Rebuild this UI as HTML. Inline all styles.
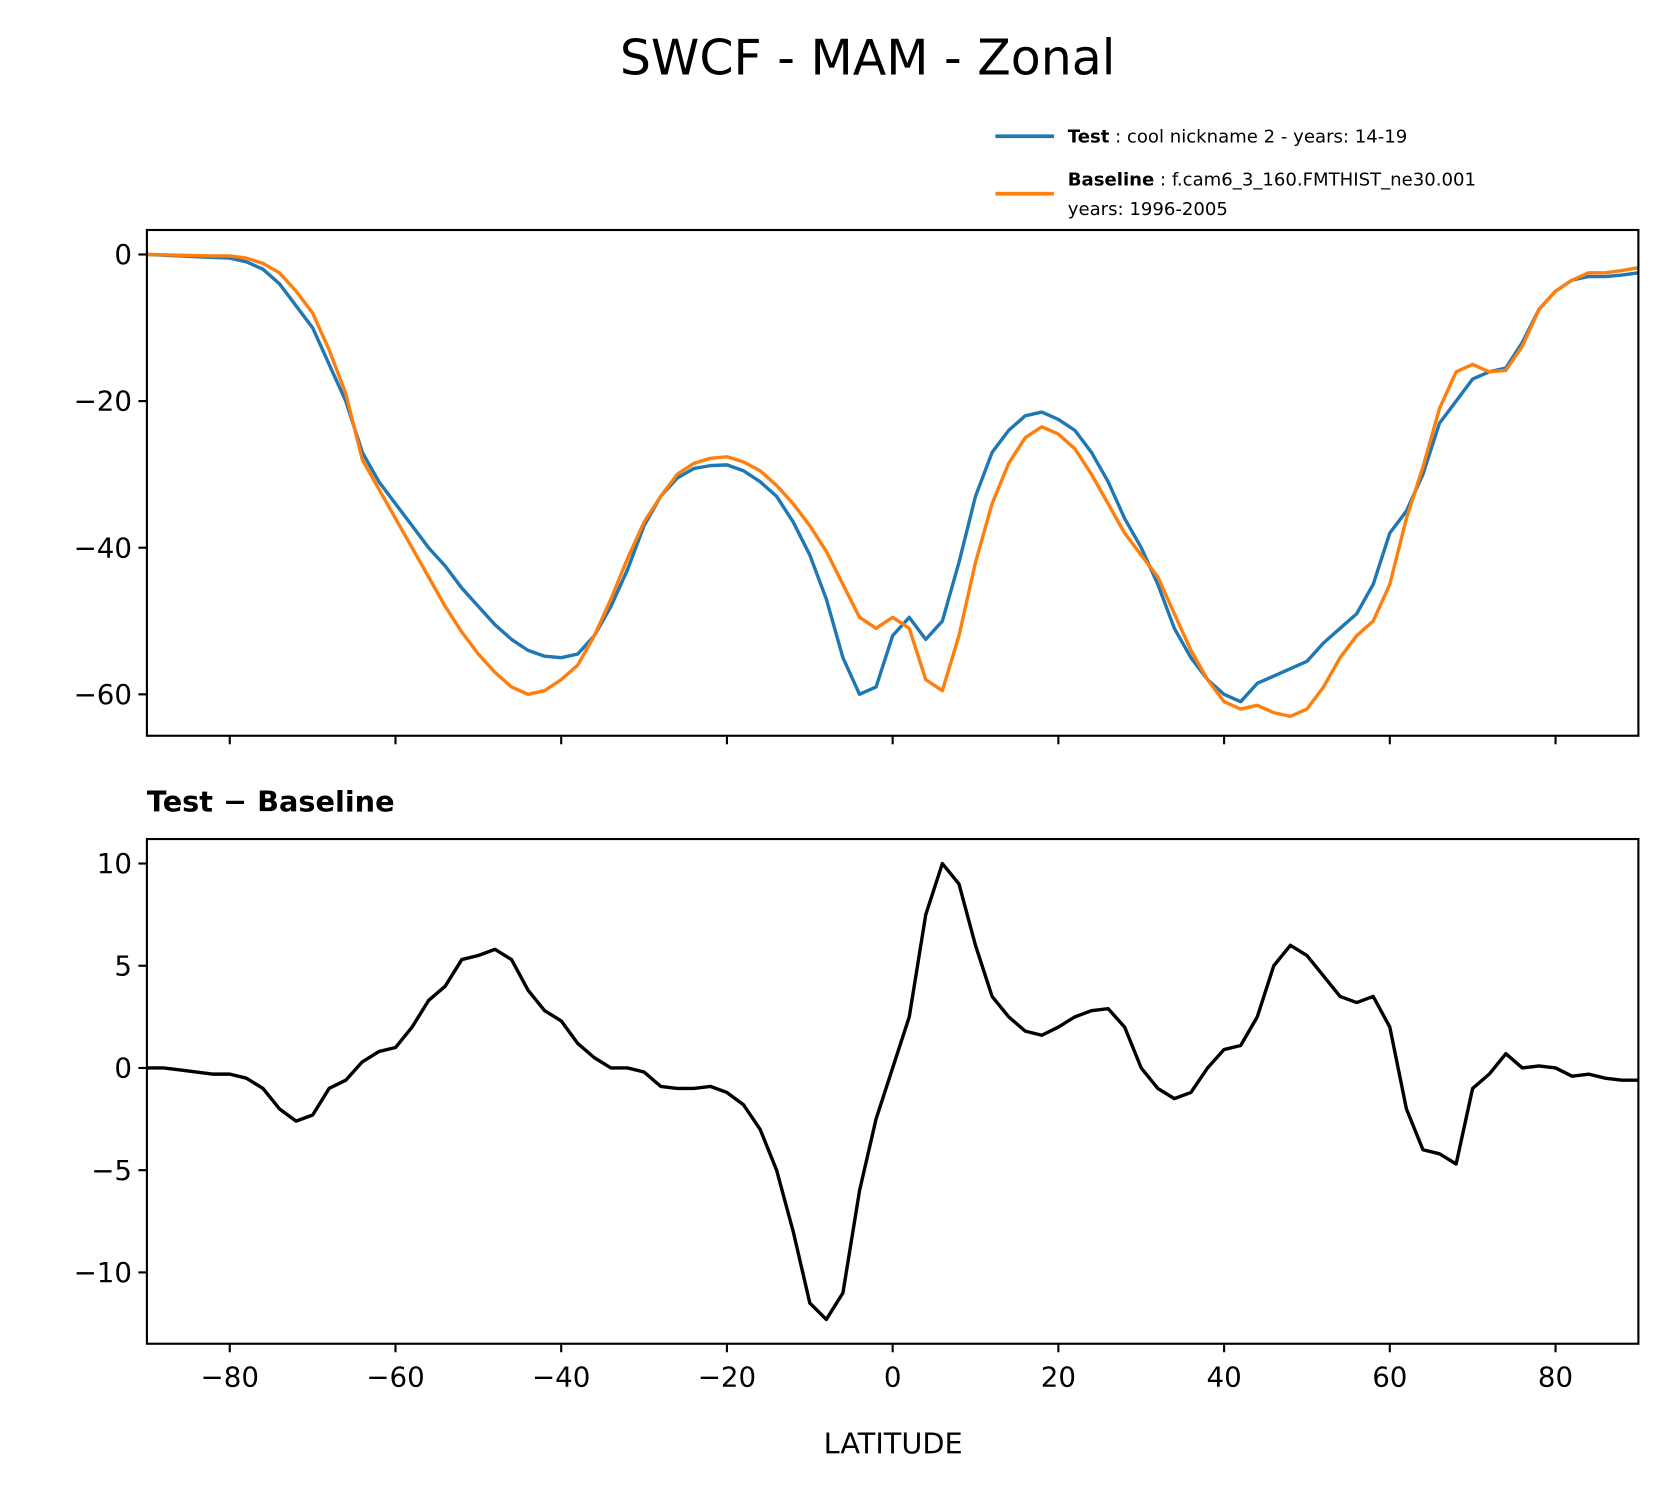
<!DOCTYPE html>
<html><head><meta charset="utf-8">
<style>
html,body{margin:0;padding:0;background:#fff;overflow:hidden;}
svg{display:block;}
svg text{font-family:"DejaVu Sans","Liberation Sans",sans-serif;fill:#000;}
</style></head>
<body>
<svg id="chart" width="1665" height="1496" viewBox="0 0 1564 1405" preserveAspectRatio="none" xmlns="http://www.w3.org/2000/svg">
<rect width="1564" height="1405" fill="#fff"/>
<text x="815" y="70" font-size="46" text-anchor="middle">SWCF - MAM - Zonal</text>
<g>
  <line x1="935" y1="128" x2="990" y2="128" stroke="#1f77b4" stroke-width="3.5"/>
  <text x="1003" y="134" font-size="17"><tspan font-weight="bold">Test</tspan> : cool nickname 2 - years: 14-19</text>
  <line x1="935" y1="182" x2="990" y2="182" stroke="#ff7f0e" stroke-width="3.5"/>
  <text x="1003" y="174" font-size="17"><tspan font-weight="bold">Baseline</tspan> : f.cam6_3_160.FMTHIST_ne30.001</text>
  <text x="1003" y="202" font-size="17">years: 1996-2005</text>
</g>
<text x="138" y="762" font-size="27" font-weight="bold">Test − Baseline</text>
<text x="839" y="1365" font-size="27" text-anchor="middle">LATITUDE</text>
</svg>
<script>
const lats = [-90,-88,-86,-84,-82,-80,-78,-76,-74,-72,-70,-68,-66,-64,-62,-60,-58,-56,-54,-52,-50,-48,-46,-44,-42,-40,-38,-36,-34,-32,-30,-28,-26,-24,-22,-20,-18,-16,-14,-12,-10,-8,-6,-4,-2,0,2,4,6,8,10,12,14,16,18,20,22,24,26,28,30,32,34,36,38,40,42,44,46,48,50,52,54,56,58,60,62,64,66,68,70,72,74,76,78,80,82,84,86,88,90];
const testValues = [0,-0.1,-0.2,-0.3,-0.4,-0.5,-1,-2,-4,-7,-10,-15,-20,-27,-31,-34,-37,-40,-42.5,-45.5,-48,-50.5,-52.5,-54,-54.8,-55,-54.5,-52,-48,-43,-37,-33,-30.5,-29.2,-28.8,-28.7,-29.5,-31,-33,-36.5,-41,-47,-55,-60,-59,-52,-49.5,-52.5,-50,-42,-33,-27,-24,-22,-21.5,-22.5,-24,-27,-31,-36,-40,-45,-51,-55,-58,-60,-61,-58.5,-57.5,-56.5,-55.5,-53,-51,-49,-45,-38,-35,-30,-23,-20,-17,-16,-15.5,-12,-7.5,-5,-3.5,-3,-3,-2.8,-2.5];
const baselineValues = [0,-0.05,-0.1,-0.15,-0.2,-0.2,-0.5,-1.2,-2.5,-5,-8,-13,-19,-28,-32,-36,-40,-44,-48,-51.5,-54.5,-57,-59,-60,-59.5,-58,-56,-52,-47,-41.5,-36.5,-33,-30,-28.5,-27.8,-27.6,-28.3,-29.5,-31.5,-34,-37,-40.5,-45,-49.5,-51,-49.5,-51,-58,-59.5,-52,-42,-34,-28.5,-25,-23.5,-24.5,-26.5,-30,-34,-38,-41,-44,-49,-54,-58,-61,-62,-61.5,-62.5,-63,-62,-59,-55,-52,-50,-45,-36,-29,-21,-16,-15,-16,-15.8,-12.5,-7.5,-5,-3.5,-2.5,-2.5,-2.2,-1.8];
const diffValues = [0,0,-0.1,-0.2,-0.3,-0.3,-0.5,-1,-2,-2.6,-2.3,-1,-0.6,0.3,0.8,1,2,3.3,4,5.3,5.5,5.8,5.3,3.8,2.8,2.3,1.2,0.5,0,0,-0.2,-0.9,-1,-1,-0.9,-1.2,-1.8,-3,-5,-8,-11.5,-12.3,-11,-6,-2.5,0,2.5,7.5,10,9,6,3.5,2.5,1.8,1.6,2,2.5,2.8,2.9,2,0,-1,-1.5,-1.2,0,0.9,1.1,2.5,5,6,5.5,4.5,3.5,3.2,3.5,2,-2,-4,-4.2,-4.7,-1,-0.3,0.7,0,0.1,0,-0.4,-0.3,-0.5,-0.6,-0.6];
const xTicks = [-80,-60,-40,-20,0,20,40,60,80];
const topYTicks = [0,-20,-40,-60];
const botYTicks = [10,5,0,-5,-10];

const NS = "http://www.w3.org/2000/svg";
const svg = document.getElementById('chart');
const L = 138, R = 1539;
const xs = v => L + (v + 90) / 180 * (R - L);
const topY = v => 239 - v * 6.885;
const botY = v => 1003 - v * 19.2;

function mk(tag, attrs) {
  const e = document.createElementNS(NS, tag);
  for (const k in attrs) e.setAttribute(k, attrs[k]);
  return e;
}

function panel(name, top, bot, yfn, ticks, showXLabels) {
  const g = mk('g', {});
  
  
  svg.appendChild(g);
  ticks.forEach(t => {
    const y = yfn(t);
    const tk = mk('line', {x1: L - 8, x2: L, y1: y, y2: y, stroke: '#000', 'stroke-width': 2});
    
    
    g.appendChild(tk);
    const tx = mk('text', {x: L - 14, y: y + 9, 'font-size': 26, 'text-anchor': 'end'});
    
    
    tx.textContent = t < 0 ? '\u2212' + Math.abs(t) : String(t);
    g.appendChild(tx);
  });
  xTicks.forEach(t => {
    const x = xs(t);
    const tk = mk('line', {x1: x, x2: x, y1: bot, y2: bot + 8, stroke: '#000', 'stroke-width': 2});
    
    
    g.appendChild(tk);
    if (showXLabels) {
      const tx = mk('text', {x: x, y: bot + 40, 'font-size': 26, 'text-anchor': 'middle'});
      
      
      tx.textContent = t < 0 ? '\u2212' + Math.abs(t) : String(t);
      g.appendChild(tx);
    }
  });
  return g;
}

function series(g, vals, yfn, color, name) {
  const d = vals.map((v, i) => (i ? 'L' : 'M') + xs(lats[i]).toFixed(1) + ',' + yfn(v).toFixed(1)).join(' ');
  const p = mk('path', {d: d, fill: 'none', stroke: color, 'stroke-width': 3.2, 'stroke-linejoin': 'round'});
  
  
  g.appendChild(p);
}

function frame(g, top, bot, name) {
  const r = mk('rect', {x: L, y: top, width: R - L, height: bot - top, fill: 'none', stroke: '#000', 'stroke-width': 2});
  
  
  g.appendChild(r);
}

const g1 = panel('top-panel', 216, 691, topY, topYTicks, false);
series(g1, testValues, topY, '#1f77b4', 'test-line');
series(g1, baselineValues, topY, '#ff7f0e', 'baseline-line');
frame(g1, 216, 691, 'top-axes-frame');

const g2 = panel('diff-panel', 788, 1262, botY, botYTicks, true);
series(g2, diffValues, botY, '#000', 'diff-line');
frame(g2, 788, 1262, 'diff-axes-frame');
</script>
</body></html>
